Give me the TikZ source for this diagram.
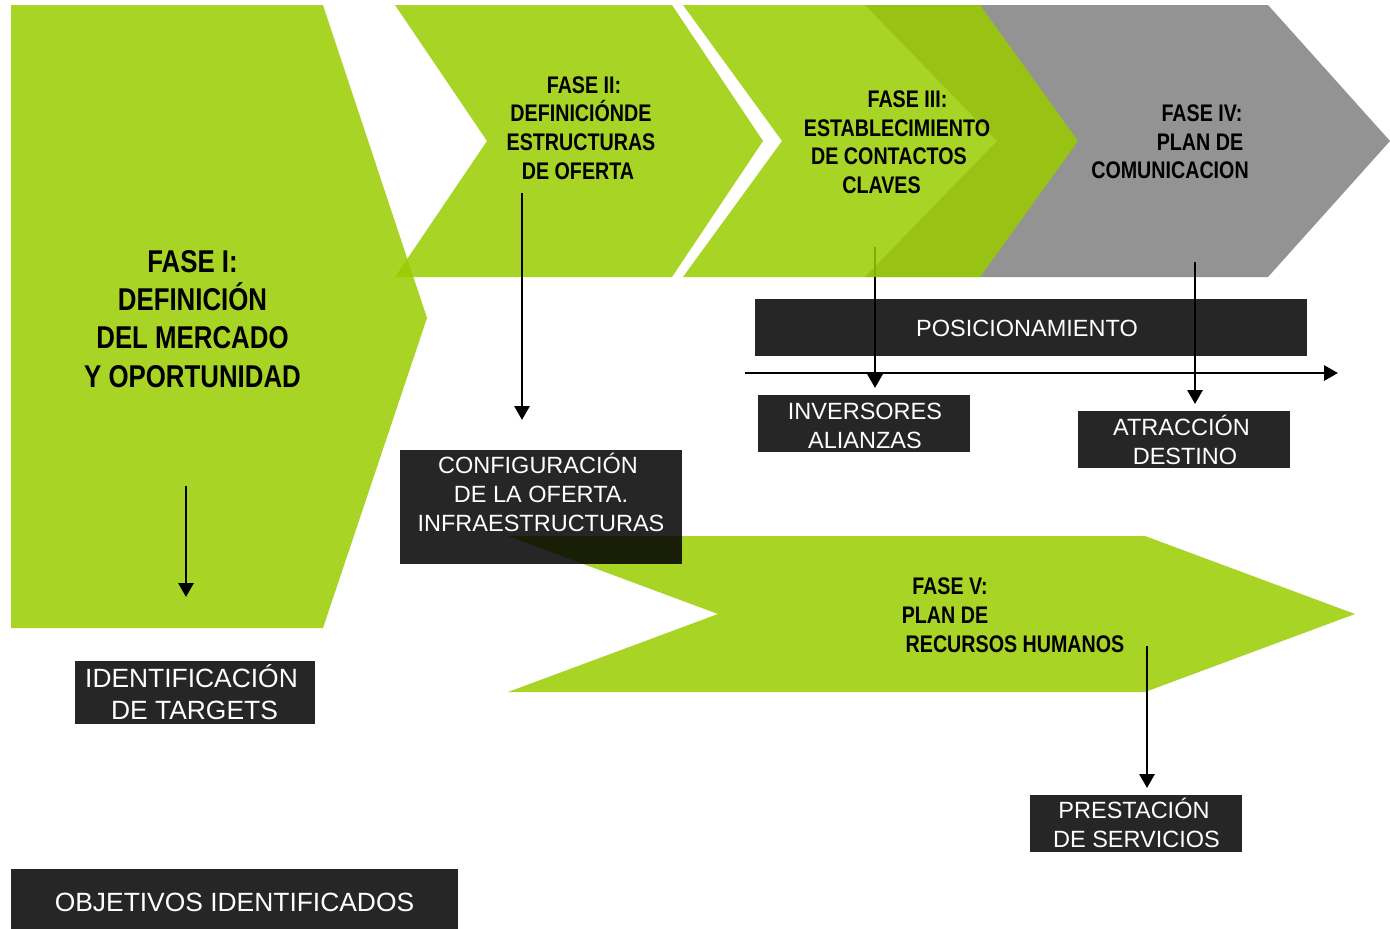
\documentclass[tikz,border=0pt]{standalone}
\usepackage{fontspec}
\setmainfont{Liberation Sans}
\newfontfamily\nb[FakeStretch=0.82]{Liberation Sans}
\usetikzlibrary{arrows.meta}
\definecolor{lg}{RGB}{153,204,0}
\definecolor{gy}{RGB}{147,147,147}
\newcommand\cl[2][0pt]{\smash{\raisebox{-0.358em}{\hspace*{#1}#2\hspace*{-#1}}}}
\tikzset{
  greenshape/.style={fill=lg, fill opacity=0.85},
  grayshape/.style={fill=gy},
  phasebig/.style={font=\nb\bfseries\fontsize{31.5}{38.3}\selectfont, align=center, inner sep=0pt, text=black},
  phase/.style={font=\nb\bfseries\fontsize{24}{28.7}\selectfont, align=center, inner sep=0pt, text=black},
  darkbox/.style={fill=black, fill opacity=0.85, draw=none, inner sep=0pt, anchor=north west},
  boxtext/.style={font=\fontsize{23.5}{29}\selectfont, align=center, inner sep=0pt, text=white},
  boxtextbig/.style={font=\fontsize{26.4}{32}\selectfont, align=center, inner sep=0pt, text=white},
  arr/.style={line width=2.9pt, -{Triangle[width=15pt,length=14pt]}}
}
\begin{document}
\begin{tikzpicture}[x=1pt,y=-1pt]
\useasboundingbox (0,0) rectangle (1390,929);

% Phase shapes
\fill[greenshape] (11,5) -- (323,5) -- (427,318) -- (323,628) -- (11,628) -- cycle;
\fill[greenshape] (395,5) -- (672,5) -- (763,141) -- (672,277) -- (395,277) -- (487,141) -- cycle;
\fill[grayshape] (865,5) -- (1268,5) -- (1390,141) -- (1268,277) -- (865,277) -- (997,141) -- cycle;

% arrow of phase III (lies under the phase III chevron)
\coordinate (a3s) at (875,247);
\coordinate (a3e) at (875,388);
\draw[arr] (a3s) -- (a3e);

\fill[greenshape] (683,5) -- (980,5) -- (1078,141) -- (980,277) -- (683,277) -- (782,141) -- cycle;
\fill[greenshape] (508,536) -- (1145,536) -- (1355,614) -- (1145,692) -- (508,692) -- (718,614) -- cycle;

% Phase labels
\node[phasebig] (f1) at (192.5,318.5) {\cl{FASE I:}\\\cl{DEFINICIÓN}\\\cl{DEL MERCADO}\\\cl{Y OPORTUNIDAD}};
\node[phase] (f2) at (581,127.5) {\cl[3pt]{FASE II:}\\\cl{DEFINICIÓNDE}\\\cl{ESTRUCTURAS}\\\cl[-3pt]{DE OFERTA}};
\node[phase] (f3) at (895,142) {\cl[12.5pt]{FASE III:}\\\cl[2pt]{ESTABLECIMIENTO}\\\cl[-6pt]{DE CONTACTOS}\\\cl[-13.5pt]{CLAVES}};
\node[phase] (f4) at (1170,141.5) {\cl[32pt]{FASE IV:}\\\cl[30pt]{PLAN DE}\\\cl{COMUNICACION}};
\node[phase] (f5) at (1015,615) {\cl[-65pt]{FASE V:}\\\cl[-70pt]{PLAN DE}\\\cl{RECURSOS HUMANOS}};

% Dark boxes
\node[darkbox, minimum width=552pt, minimum height=57pt] (bpos) at (755,299) {};
\node[darkbox, minimum width=212pt, minimum height=57pt] (binv) at (758,395) {};
\node[darkbox, minimum width=212pt, minimum height=57pt] (batr) at (1078,411) {};
\node[darkbox, minimum width=282pt, minimum height=114pt] (bconf) at (400,450) {};
\node[darkbox, minimum width=240pt, minimum height=63pt] (bident) at (75,661) {};
\node[darkbox, minimum width=212pt, minimum height=57pt] (bprest) at (1030,795) {};
\node[darkbox, minimum width=447pt, minimum height=60pt] (bobj) at (11,869) {};

% Box texts
\node[boxtext] (tpos) at (1027,328) {\cl{POSICIONAMIENTO}};
\node[boxtext] (tinv) at (865,425.5) {\cl{INVERSORES}\\\cl{ALIANZAS}};
\node[boxtext] (tatr) at (1183,441.5) {\cl[-1.5pt]{ATRACCIÓN}\\\cl[2pt]{DESTINO}};
\node[boxtext] (tconf) at (541,494.5) {\cl[-3pt]{CONFIGURACIÓN}\\\cl{DE LA OFERTA.}\\\cl{INFRAESTRUCTURAS}};
\node[boxtextbig] (tident) at (193,694) {\cl[-1.5pt]{IDENTIFICACIÓN}\\\cl[1.5pt]{DE TARGETS}};
\node[boxtext] (tprest) at (1135,824.5) {\cl[-1pt]{PRESTACIÓN}\\\cl[1.5pt]{DE SERVICIOS}};
\node[boxtextbig] (tobj) at (234.5,902) {\cl{OBJETIVOS IDENTIFICADOS}};

% Arrows
\coordinate (a1s) at (186,486);
\coordinate (a1e) at (186,597);
\coordinate (a2s) at (522,193);
\coordinate (a2e) at (522,420);
\coordinate (a4s) at (1195,262);
\coordinate (a4e) at (1195,404);
\coordinate (ahs) at (745,373);
\coordinate (ahe) at (1338,373);
\coordinate (a5s) at (1147,646);
\coordinate (a5e) at (1147,788);
\draw[arr] (a1s) -- (a1e);
\draw[arr] (a2s) -- (a2e);
\draw[arr] (a4s) -- (a4e);
\draw[arr] (ahs) -- (ahe);
\draw[arr] (a5s) -- (a5e);
\end{tikzpicture}
\end{document}
